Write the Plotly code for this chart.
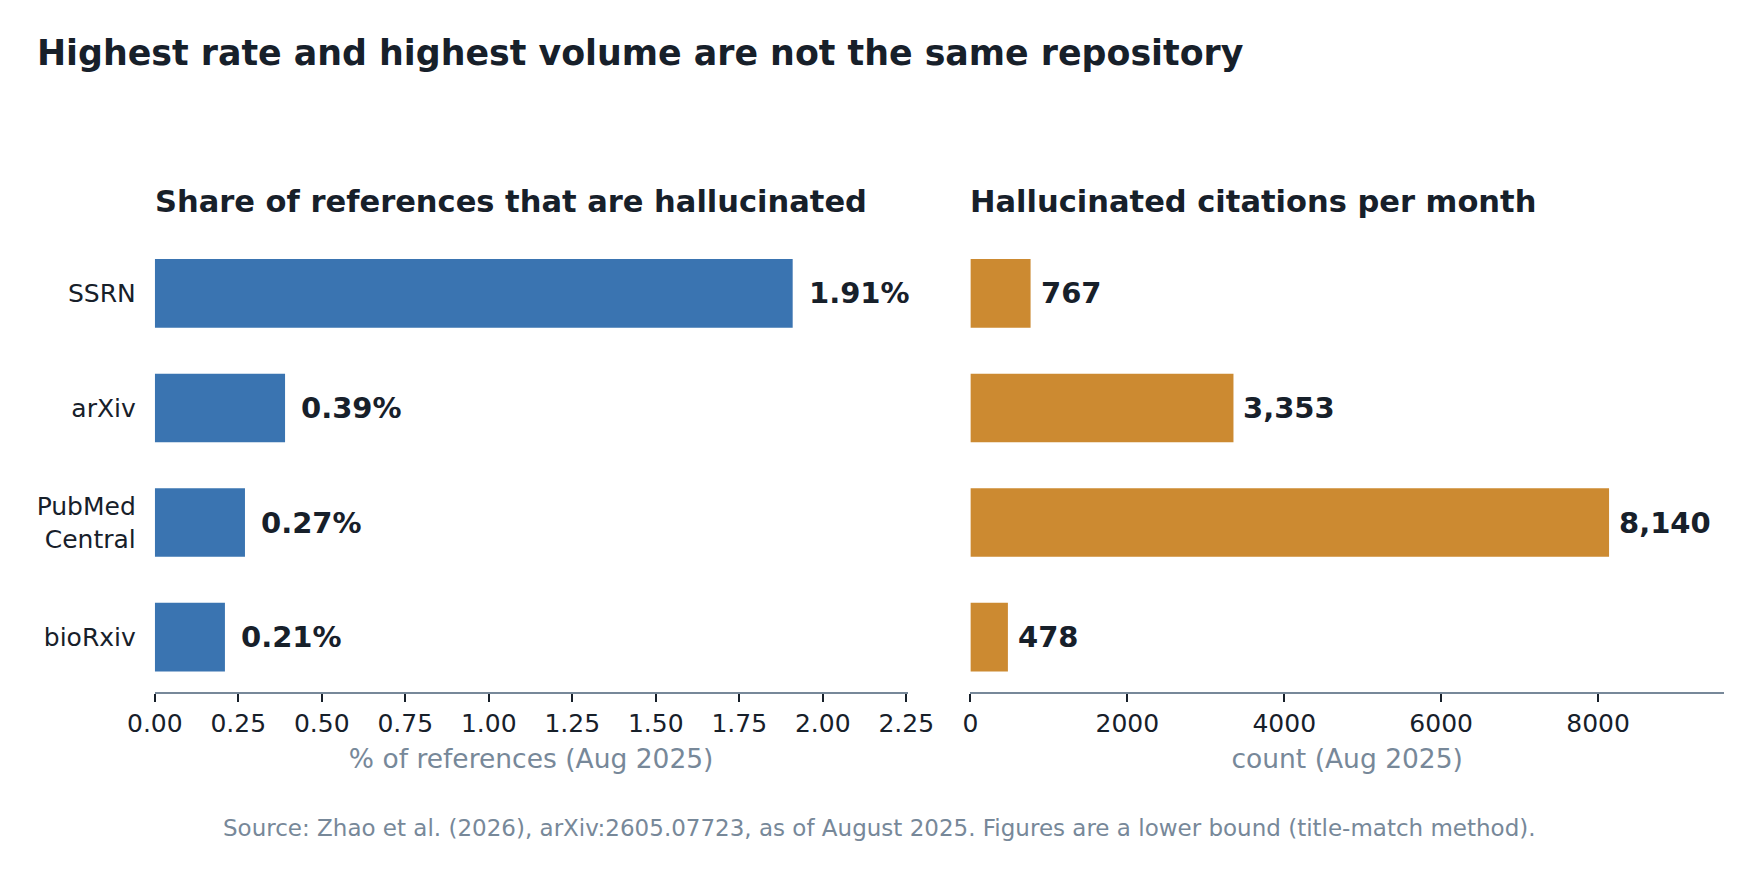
import plotly.graph_objects as go

# ---- data ----
repositories = ["SSRN", "arXiv", "PubMed<br>Central", "bioRxiv"]
share_pct = [1.91, 0.39, 0.27, 0.21]
citations_per_month = [767, 3353, 8140, 478]
share_ticks = [0.0, 0.25, 0.5, 0.75, 1.0, 1.25, 1.5, 1.75, 2.0, 2.25]
count_ticks = [0, 2000, 4000, 6000, 8000]

W, H = 1759, 876
DARK = "#17202A"
GRAY = "#778899"
BLUE = "#3A74B1"
ORANGE = "#CC8A31"
FONT = "DejaVu Sans"

def px_x(p):
    return p / W

def px_y(p):
    return 1 - p / H

xl_dom = [px_x(154.8), px_x(907.5)]
xr_dom = [px_x(970.4), px_x(1724)]
y_dom = [px_y(692), px_y(238.5)]

fig = go.Figure()
fig.add_trace(go.Bar(
    x=share_pct, y=repositories, orientation="h", width=0.6,
    marker=dict(color=BLUE, line=dict(width=0)), xaxis="x", yaxis="y",
    hoverinfo="skip",
))
fig.add_trace(go.Bar(
    x=citations_per_month, y=repositories, orientation="h", width=0.6,
    marker=dict(color=ORANGE, line=dict(width=0)), xaxis="x2", yaxis="y2",
    hoverinfo="skip",
))

annotations = []
for cat, v in zip(repositories, share_pct):
    annotations.append(dict(
        x=v, y=cat, xref="x", yref="y", text=f"<b>{v:.2f}%</b>",
        xanchor="left", yanchor="middle", xshift=14, showarrow=False,
        font=dict(family=FONT, size=29, color=DARK),
    ))
for cat, v in zip(repositories, citations_per_month):
    annotations.append(dict(
        x=v, y=cat, xref="x2", yref="y2", text=f"<b>{v:,}</b>",
        xanchor="left", yanchor="middle", xshift=8, showarrow=False,
        font=dict(family=FONT, size=29, color=DARK),
    ))

annotations += [
    dict(x=px_x(38), y=px_y(52.7), xref="paper", yref="paper", xanchor="left", yanchor="middle",
         text="<b>Highest rate and highest volume are not the same repository</b>", xshift=-3,
         showarrow=False, font=dict(family=FONT, size=34.8, color=DARK)),
    dict(x=xl_dom[0], y=px_y(202), xref="paper", yref="paper", xanchor="left", yanchor="middle",
         text="<b>Share of references that are hallucinated</b>",
         showarrow=False, font=dict(family=FONT, size=30.5, color=DARK), xshift=-2),
    dict(x=xr_dom[0], y=px_y(202), xref="paper", yref="paper", xanchor="left", yanchor="middle",
         text="<b>Hallucinated citations per month</b>",
         showarrow=False, font=dict(family=FONT, size=30.5, color=DARK), xshift=-2),
    dict(x=0.5, y=px_y(828), xref="paper", yref="paper", xanchor="center", yanchor="middle",
         text="Source: Zhao et al. (2026), arXiv:2605.07723, as of August 2025. Figures are a lower bound (title-match method).",
         showarrow=False, font=dict(family=FONT, size=23, color=GRAY)),
]

common_x = dict(
    showgrid=False, zeroline=False, showline=True, linecolor=GRAY, linewidth=2,
    ticks="outside", ticklen=8, tickwidth=2, tickcolor=DARK, automargin=False,
    tickfont=dict(family=FONT, size=25, color=DARK),
)

fig.update_layout(
    width=W, height=H,
    margin=dict(l=0, r=0, t=0, b=0),
    paper_bgcolor="white", plot_bgcolor="white",
    showlegend=False,
    font=dict(family=FONT, color=DARK),
    annotations=annotations,
    xaxis=dict(domain=xl_dom, range=[0, 2.2538], tickvals=share_ticks, tickformat=".2f",
               title=dict(text="% of references (Aug 2025)", font=dict(family=FONT, size=26.5, color=GRAY), standoff=12),
               anchor="y", **common_x),
    xaxis2=dict(domain=xr_dom, range=[0, 9605], tickvals=count_ticks, tickformat="d",
                title=dict(text="count (Aug 2025)", font=dict(family=FONT, size=26.5, color=GRAY), standoff=12),
                anchor="y2", **common_x),
    yaxis=dict(domain=y_dom, range=[3.48, -0.48], type="category", anchor="x",
               categoryorder="array", categoryarray=repositories, automargin=False,
               showgrid=False, zeroline=False, showline=False, ticks="",
               ticklabelstandoff=18,
               tickfont=dict(family=FONT, size=25, color=DARK)),
    yaxis2=dict(domain=y_dom, range=[3.48, -0.48], type="category", anchor="x2",
                categoryorder="array", categoryarray=repositories, automargin=False,
                showgrid=False, zeroline=False, showline=False, ticks="",
                showticklabels=False),
)

fig.write_html("out.html")
